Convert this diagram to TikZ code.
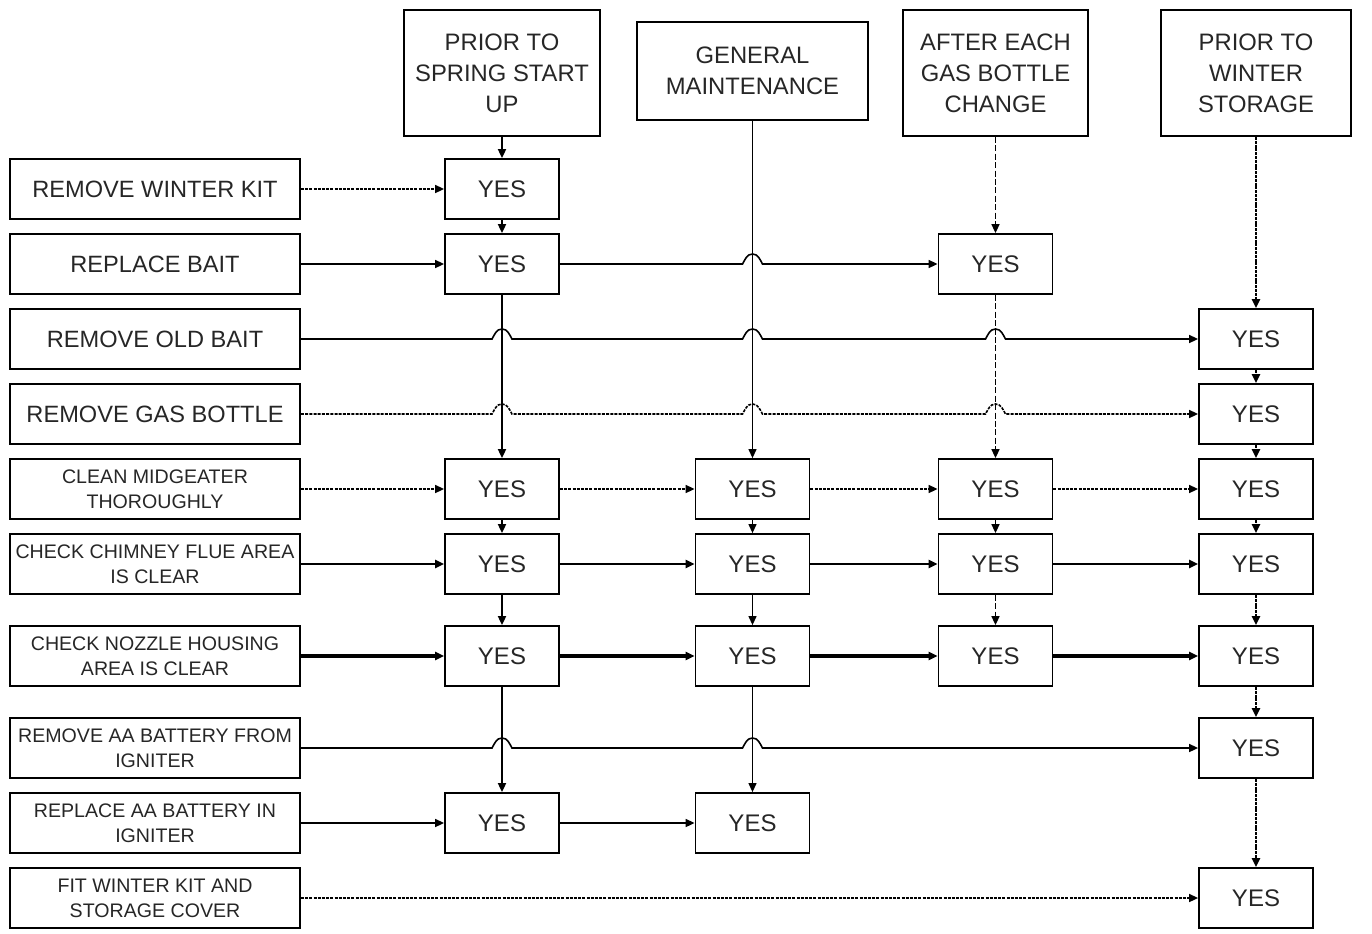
\documentclass[tikz,border=0pt]{standalone}
\usepackage{fontspec}
\setmainfont{Liberation Sans}
\usetikzlibrary{positioning,arrows.meta,calc}

% small bridge where a row line crosses a column line
\newcommand{\hop}[2]{-- ($(#1 |- #2)+(-5pt,0)$) to[out=60,in=180] ++(5pt,5pt) to[out=0,in=120] ++(5pt,-5pt)}

\begin{document}
\begin{tikzpicture}[
        x=0.5pt, y=-0.5pt,
        node distance=6.6pt,
        task/.style={draw, line width=0.9pt, minimum width=145pt, minimum height=30pt, align=center, inner sep=1pt, text=black!85},
        big/.style={font=\fontsize{11.8}{14}\selectfont},
        small/.style={font=\fontsize{9.8}{12.5}\selectfont},
        head/.style={draw, line width=0.9pt, align=center, text=black!85, font=\fontsize{11.9}{15.5}\selectfont},
        yes/.style={draw, line width=0.9pt, minimum width=57pt, minimum height=30pt, text=black!85, font=\fontsize{12}{14}\selectfont},
        flow/.style={line width=0.8pt, -{Triangle[length=4.5pt,width=4pt]}},
        faint/.style={flow, dash pattern=on 1.5pt off 0.6pt},
        heavy/.style={flow, line width=1.3pt},
        heavier/.style={flow, line width=1.8pt},
        colA/.style={flow, line width=0.9pt},
        colB/.style={flow, line width=0.6pt},
        colC/.style={flow, dash pattern=on 3pt off 1.2pt},
        colD/.style={flow, line width=1.3pt, dash pattern=on 1.5pt off 0.4pt}
    ]
        \useasboundingbox (0,0) rectangle (1372,933);

        % column heads
        \node[head, minimum width=98pt, minimum height=63pt] (h1) at (502,73) {PRIOR TO\\SPRING START\\UP};
        \node[head, minimum width=115.5pt, minimum height=49pt] (h2) at (752.5,71) {GENERAL\\MAINTENANCE};
        \node[head, minimum width=92.5pt, minimum height=63pt] (h3) at (995.5,73) {AFTER EACH\\GAS BOTTLE\\CHANGE};
        \node[head, minimum width=95pt, minimum height=63pt] (h4) at (1256,73) {PRIOR TO\\WINTER\\STORAGE};

        % tasks
        \node[task, big] (t1) at (155,189) {REMOVE WINTER KIT};
        \node[task, big, below=of t1] (t2) {REPLACE BAIT};
        \node[task, big, below=of t2] (t3) {REMOVE OLD BAIT};
        \node[task, big, below=of t3] (t4) {REMOVE GAS BOTTLE};
        \node[task, small, below=of t4] (t5) {CLEAN MIDGEATER\\THOROUGHLY};
        \node[task, small, below=of t5] (t6) {CHECK CHIMNEY FLUE AREA\\IS CLEAR};
        \node[task, small, below=15.1pt of t6] (t7) {CHECK NOZZLE HOUSING\\AREA IS CLEAR};
        \node[task, small, below=15.1pt of t7] (t8) {REMOVE AA BATTERY FROM\\IGNITER};
        \node[task, small, below=of t8] (t9) {REPLACE AA BATTERY IN\\IGNITER};
        \node[task, small, below=of t9] (t10) {FIT WINTER KIT AND\\STORAGE COVER};

        % answers
        \node[yes] (a1) at (h1 |- t1) {YES};
        \node[yes] (a2) at (h1 |- t2) {YES};
        \node[yes] (a5) at (h1 |- t5) {YES};
        \node[yes] (a6) at (h1 |- t6) {YES};
        \node[yes] (a7) at (h1 |- t7) {YES};
        \node[yes] (a9) at (h1 |- t9) {YES};

        \node[yes] (b5) at (h2 |- t5) {YES};
        \node[yes] (b6) at (h2 |- t6) {YES};
        \node[yes] (b7) at (h2 |- t7) {YES};
        \node[yes] (b9) at (h2 |- t9) {YES};

        \node[yes] (c2) at (h3 |- t2) {YES};
        \node[yes] (c5) at (h3 |- t5) {YES};
        \node[yes] (c6) at (h3 |- t6) {YES};
        \node[yes] (c7) at (h3 |- t7) {YES};

        \node[yes] (d3) at (h4 |- t3) {YES};
        \node[yes] (d4) at (h4 |- t4) {YES};
        \node[yes] (d5) at (h4 |- t5) {YES};
        \node[yes] (d6) at (h4 |- t6) {YES};
        \node[yes] (d7) at (h4 |- t7) {YES};
        \node[yes] (d8) at (h4 |- t8) {YES};
        \node[yes] (d10) at (h4 |- t10) {YES};

        % columns
        \draw[colA] (h1) -- (a1);
        \draw[colA] (a1) -- (a2);
        \draw[colA] (a2) -- (a5);
        \draw[colA] (a5) -- (a6);
        \draw[colA] (a6) -- (a7);
        \draw[colA] (a7) -- (a9);

        \draw[colB] (h2) -- (b5);
        \draw[colB] (b5) -- (b6);
        \draw[colB] (b6) -- (b7);
        \draw[colB] (b7) -- (b9);

        \draw[colC] (h3) -- (c2);
        \draw[colC] (c2) -- (c5);
        \draw[colC] (c5) -- (c6);
        \draw[colC] (c6) -- (c7);

        \draw[colD] (h4) -- (d3);
        \draw[colD] (d3) -- (d4);
        \draw[colD] (d4) -- (d5);
        \draw[colD] (d5) -- (d6);
        \draw[colD] (d6) -- (d7);
        \draw[colD] (d7) -- (d8);
        \draw[colD] (d8) -- (d10);

        % rows
        \draw[faint] (t1) -- (a1);

        \draw[flow] (t2) -- (a2);
        \draw[flow] (a2) \hop{h2}{t2} -- (c2);

        \draw[flow] (t3) \hop{h1}{t3} \hop{h2}{t3} \hop{h3}{t3} -- (d3);

        \draw[faint] (t4) \hop{h1}{t4} \hop{h2}{t4} \hop{h3}{t4} -- (d4);

        \draw[faint] (t5) -- (a5);
        \draw[faint] (a5) -- (b5);
        \draw[faint] (b5) -- (c5);
        \draw[faint] (c5) -- (d5);

        \draw[heavy] (t6) -- (a6);
        \draw[heavy] (a6) -- (b6);
        \draw[heavy] (b6) -- (c6);
        \draw[heavy] (c6) -- (d6);

        \draw[heavier] (t7) -- (a7);
        \draw[heavier] (a7) -- (b7);
        \draw[heavier] (b7) -- (c7);
        \draw[heavier] (c7) -- (d7);

        \draw[flow] (t8) \hop{h1}{t8} \hop{h2}{t8} -- (d8);

        \draw[flow] (t9) -- (a9);
        \draw[flow] (a9) -- (b9);

        \draw[faint] (t10) -- (d10);
    \end{tikzpicture}
\end{document}
